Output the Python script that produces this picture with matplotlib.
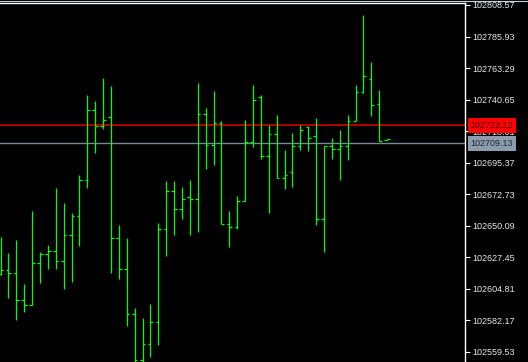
import numpy as np
import matplotlib
matplotlib.use("Agg")
import matplotlib.pyplot as plt
import matplotlib.transforms as mtransforms

# OHLC bars (oldest -> newest)
opens = [102615.3, 102618.2, 102616.3, 102596.5, 102592.9, 102623.2, 102629.5, 102631.7, 102624.7, 102643.1,
         102657.2, 102682.9, 102733.1, 102721.9, 102728.1, 102641.0, 102618.9, 102586.4, 102553.8, 102565.1,
         102580.7, 102647.5, 102675.0, 102662.3, 102670.9, 102669.4, 102730.5, 102707.8, 102724.0, 102651.0,
         102648.9, 102668.0, 102710.5, 102742.3, 102700.0, 102716.1, 102684.1, 102688.4, 102707.1, 102720.6,
         102714.3, 102654.6, 102707.1, 102704.9, 102707.1, 102725.5, 102745.9, 102755.2, 102737.3, 102711.4]
highs = [102642.1, 102630.4, 102639.8, 102607.9, 102660.4, 102631.1, 102636.2, 102677.3, 102666.1, 102658.9,
         102686.5, 102743.9, 102739.6, 102756.1, 102750.4, 102650.5, 102641.0, 102591.1, 102583.7, 102593.8,
         102652.0, 102682.4, 102682.4, 102678.1, 102683.1, 102752.5, 102734.9, 102746.8, 102725.0, 102660.5,
         102671.7, 102725.6, 102751.0, 102743.8, 102722.2, 102729.8, 102704.4, 102716.4, 102722.7, 102721.5,
         102727.2, 102707.3, 102712.9, 102718.6, 102729.3, 102751.1, 102801.4, 102767.6, 102747.5, 102712.1]
lows = [102614.6, 102598.3, 102582.3, 102588.3, 102592.9, 102608.7, 102619.2, 102619.2, 102604.6, 102609.4,
        102635.7, 102676.9, 102702.5, 102719.5, 102615.8, 102611.8, 102578.2, 102552.1, 102552.1, 102555.9,
        102564.6, 102628.5, 102643.6, 102655.1, 102643.7, 102645.2, 102690.9, 102693.3, 102650.9, 102634.9,
        102648.0, 102667.8, 102706.8, 102698.3, 102659.4, 102684.1, 102676.2, 102677.6, 102704.6, 102703.9,
        102650.8, 102631.4, 102698.2, 102683.1, 102697.4, 102725.1, 102745.1, 102728.6, 102711.2, 102711.4]
closes = [102618.2, 102616.3, 102596.5, 102592.9, 102623.2, 102629.5, 102631.7, 102624.7, 102643.1, 102657.2,
          102682.9, 102733.1, 102721.9, 102726.0, 102641.0, 102618.9, 102586.4, 102553.8, 102565.1, 102580.7,
          102647.5, 102675.0, 102662.3, 102669.4, 102669.4, 102730.5, 102707.8, 102724.0, 102651.0, 102648.9,
          102668.0, 102710.5, 102740.3, 102700.0, 102716.1, 102684.1, 102686.3, 102707.1, 102719.1, 102712.8,
          102654.6, 102707.1, 102704.9, 102707.1, 102725.5, 102745.9, 102757.4, 102736.7, 102711.2, 102712.1]

price_ticks = [102808.57, 102785.93, 102763.29, 102740.65, 102718.01, 102695.37,
               102672.73, 102650.09, 102627.45, 102604.81, 102582.17, 102559.53]
ask_price = 102722.13
bid_price = 102709.13

W, H = 528, 362
fig = plt.figure(figsize=(W / 100, H / 100), dpi=100, facecolor="black")
# plot area: x 0..465 px, y 3..362 px
ax = fig.add_axes([0, 0, 465 / W, 359 / H], facecolor="black")

x = np.arange(len(opens))
bar_col = "#00ff00"
ax.vlines(x, lows, highs, color=bar_col, lw=0.9)
ax.hlines(opens, x - 0.34, x, color=bar_col, lw=0.9)
ax.hlines(closes, x, x + 0.34, color=bar_col, lw=0.9)

# ask / bid lines
ax.axhline(ask_price, color="#c00000", lw=1.3, zorder=1)
ax.axhline(bid_price, color="#778899", lw=1.0, zorder=1)

ax.set_xlim(-0.5 / 7.89, 464.5 / 7.89)
ax.set_ylim(102552.13, 102810.0)

for s in ["left", "bottom"]:
    ax.spines[s].set_visible(False)
for s in ["top", "right"]:
    ax.spines[s].set_color("white")
    ax.spines[s].set_linewidth(1.0)

ax.set_xticks([])
ax.yaxis.tick_right()
ax.set_yticks(price_ticks)
ax.set_yticklabels(["%.2f" % p for p in price_ticks])
ax.tick_params(axis="y", colors="white", length=3.5, width=0.8, pad=1.5,
               labelsize=6.5, labelcolor="#e8e8e8")
for lab in ax.get_yticklabels():
    lab.set_family("Liberation Sans")

# price boxes on the scale (they sit over the 102718.01 label, as in MT4)
trans = mtransforms.blended_transform_factory(ax.transAxes, ax.transData)
ax.text(470.5 / 465, ask_price, "%.2f" % ask_price, transform=trans, va="center", ha="left",
        fontsize=6.5, family="Liberation Sans", color="#500000", clip_on=False, zorder=5,
        bbox=dict(boxstyle="square,pad=0.3", fc="#ff0000", ec="none"))
ax.text(470.5 / 465, bid_price, "%.2f" % bid_price, transform=trans, va="center", ha="left",
        fontsize=6.5, family="Liberation Sans", color="#202830", clip_on=False, zorder=5,
        bbox=dict(boxstyle="square,pad=0.3", fc="#8c9cac", ec="none"))

# thin frame line at the very top of the window
fig.add_artist(plt.Line2D([0, 1], [1 - 0.5 / H, 1 - 0.5 / H], transform=fig.transFigure,
                          color="#c8d0d8", lw=0.8))

fig.savefig("out.png", dpi=100, facecolor="black")
